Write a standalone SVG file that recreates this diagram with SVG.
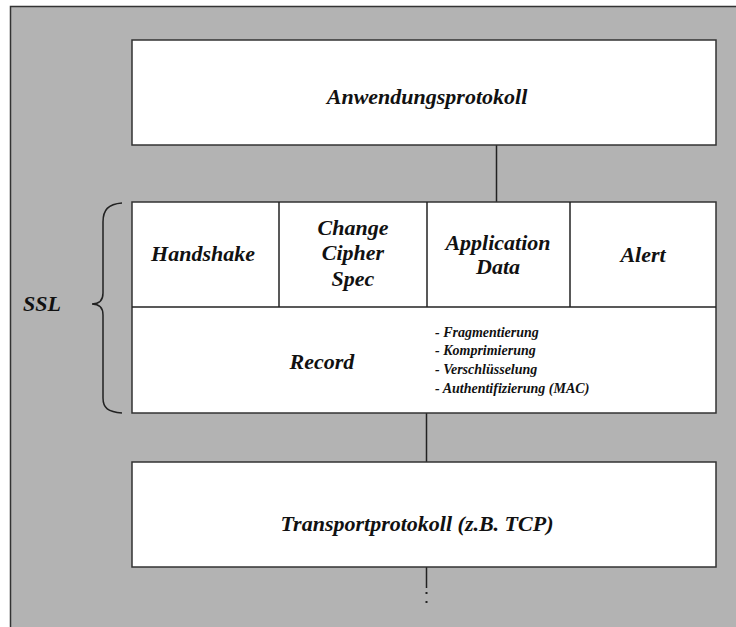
<svg xmlns="http://www.w3.org/2000/svg" width="736" height="627" viewBox="0 0 736 627">
<style>
.box{fill:#fff;stroke:#333;stroke-width:1.5}
.t{font-family:"Liberation Serif","DejaVu Serif",serif;font-weight:bold;font-style:italic;fill:#111;text-anchor:middle}
.m{font-size:22px}
.s{font-size:14px;text-anchor:start}
.ln{stroke:#222;stroke-width:1.5;fill:none}
</style>
<rect x="0" y="0" width="736" height="627" fill="#fff"/>
<rect x="10.5" y="6.5" width="730" height="630" fill="#b3b3b3" stroke="#333" stroke-width="1.5"/>
<g id="connectors">
<line class="ln" x1="496.5" y1="145" x2="496.5" y2="202"/>
<line class="ln" x1="426.5" y1="413" x2="426.5" y2="462"/>
<line class="ln" x1="426.5" y1="567" x2="426.5" y2="588"/>
<line stroke="#222" stroke-width="2" stroke-dasharray="2,7" x1="426.5" y1="592" x2="426.5" y2="604"/>
</g>
<g id="anwendung">
<rect class="box" x="132" y="40" width="584" height="105"/>
<text class="t m" x="427" y="104">Anwendungsprotokoll</text>
</g>
<g id="ssl">
<rect class="box" x="132" y="202" width="584" height="211"/>
<line class="ln" x1="132" y1="307" x2="716" y2="307"/>
<line class="ln" x1="279" y1="202" x2="279" y2="307"/>
<line class="ln" x1="427" y1="202" x2="427" y2="307"/>
<line class="ln" x1="570" y1="202" x2="570" y2="307"/>
</g>
<g id="handshake"><text class="t m" x="203" y="261">Handshake</text></g>
<g id="ccs"><text class="t m" x="353" y="235">Change</text><text class="t m" x="353" y="260">Cipher</text><text class="t m" x="353" y="286">Spec</text></g>
<g id="appdata"><text class="t m" x="498" y="250">Application</text><text class="t m" x="498" y="274">Data</text></g>
<g id="alert"><text class="t m" x="643" y="262">Alert</text></g>
<g id="record">
<text class="t m" x="322" y="369">Record</text>
<text class="t s" x="435" y="337">- Fragmentierung</text>
<text class="t s" x="435" y="355">- Komprimierung</text>
<text class="t s" x="435" y="374">- Verschlüsselung</text>
<text class="t s" x="435" y="393">- Authentifizierung (MAC)</text>
</g>
<g id="brace">
<path class="ln" d="M122,203 C108,204 103,210 103,222 L103,293 C103,300 99,304 92,304 C99,304 103,308 103,315 L103,398 C103,408 108,412 122,413"/>
<text class="t m" x="42" y="311">SSL</text>
</g>
<g id="transport">
<rect class="box" x="132" y="462" width="584" height="105"/>
<text class="t m" x="417" y="531">Transportprotokoll (z.B. TCP)</text>
</g>
</svg>
